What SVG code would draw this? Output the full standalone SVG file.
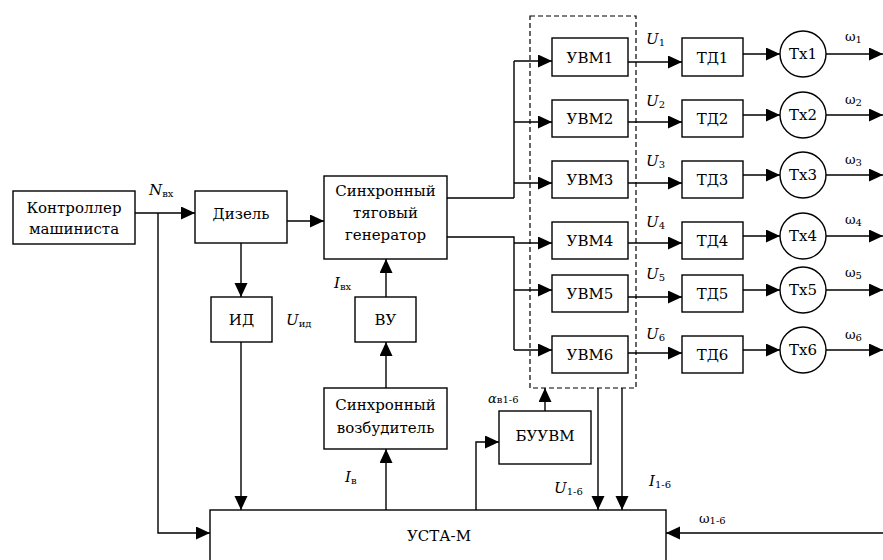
<svg xmlns="http://www.w3.org/2000/svg" width="883" height="560" viewBox="0 0 883 560">
<style>
.b{fill:#fff;stroke:#000;stroke-width:1.4}
.t{font-size:15px;fill:#000;text-anchor:middle}
.l{font-size:15px;fill:#000}
.i{font-style:italic}
.s{font-size:10px}
.w{font-size:13px}
.c{fill:none;stroke:#000;stroke-width:1.4}
.a{marker-end:url(#ah)}
</style>
<defs>
<marker id="ah" markerUnits="userSpaceOnUse" markerWidth="15" markerHeight="14" refX="14" refY="6.5" orient="auto">
<path d="M0,0 L14,6.5 L0,13 z" fill="#000"/>
</marker>
</defs>
<rect width="883" height="560" fill="#fff"/>
<g font-family="'DejaVu Serif', serif">
<g id="connectors">
<path class="c a" d="M135,213 H195"/>
<path class="c a" d="M158,213 V533 H210"/>
<path class="c a" d="M287,221 H324"/>
<path class="c a" d="M241,243 V297"/>
<path class="c a" d="M241,342 V510"/>
<path class="c a" d="M386,297 V259"/>
<path class="c a" d="M386,388 V342"/>
<path class="c a" d="M386,510 V449"/>
<path class="c" d="M447,198 H514 M514,61 V198 M447,237 H514 V350"/>
<path class="c a" d="M514,61 H552"/>
<path class="c a" d="M514,122 H552"/>
<path class="c a" d="M514,183 H552"/>
<path class="c a" d="M514,243 H552"/>
<path class="c a" d="M514,290 H552"/>
<path class="c a" d="M514,350 H552"/>
<path class="c a" d="M628,62 H682"/>
<path class="c a" d="M628,122 H682"/>
<path class="c a" d="M628,183 H682"/>
<path class="c a" d="M628,243 H682"/>
<path class="c a" d="M628,297 H682"/>
<path class="c a" d="M628,353 H682"/>
<path class="c a" d="M743,54 H780"/>
<path class="c a" d="M743,115 H780"/>
<path class="c a" d="M743,175 H780"/>
<path class="c a" d="M743,236 H780"/>
<path class="c a" d="M743,290 H780"/>
<path class="c a" d="M743,350 H780"/>
<path class="c a" d="M826,54 H883"/>
<path class="c a" d="M826,115 H883"/>
<path class="c a" d="M826,175 H883"/>
<path class="c a" d="M826,236 H883"/>
<path class="c a" d="M826,290 H883"/>
<path class="c a" d="M826,350 H883"/>
<path class="c a" d="M476,510 V442 H499"/>
<path class="c a" d="M545,411 V388"/>
<path class="c a" d="M598,388 V510"/>
<path class="c a" d="M622,388 V510"/>
<path class="c a" d="M883,533 H666"/>
</g>
<g id="uvm-group"><rect x="530" y="16" width="106" height="372" fill="none" stroke="#000" stroke-width="1.2" stroke-dasharray="5,3"/></g>
<g id="controller"><rect class="b" x="13" y="191" width="122" height="53"/><text class="t" x="74" y="213">Контроллер</text><text class="t" x="74" y="234">машиниста</text></g>
<g id="diesel"><rect class="b" x="195" y="191" width="92" height="52"/><text class="t" x="241" y="219">Дизель</text></g>
<g id="generator"><rect class="b" x="324" y="176" width="123" height="83"/><text class="t" x="385.5" y="196">Синхронный</text><text class="t" x="385.5" y="218">тяговый</text><text class="t" x="385.5" y="240">генератор</text></g>
<g id="id"><rect class="b" x="211" y="297" width="61" height="45"/><text class="t" x="241.5" y="325">ИД</text></g>
<g id="vu"><rect class="b" x="355" y="297" width="61" height="45"/><text class="t" x="385.5" y="325">ВУ</text></g>
<g id="exciter"><rect class="b" x="324" y="388" width="123" height="61"/><text class="t" x="385.5" y="410">Синхронный</text><text class="t" x="385.5" y="433">возбудитель</text></g>
<g id="buuvm"><rect class="b" x="499" y="411" width="92" height="53"/><text class="t" x="545" y="441">БУУВМ</text></g>
<g id="usta"><rect class="b" x="210" y="510" width="456" height="60"/><text class="t" x="439" y="541">УСТА-М</text></g>
<g id="uvm1"><rect class="b" x="552" y="38" width="76" height="38"/><text class="t" x="590" y="63">УВМ1</text></g>
<g id="uvm2"><rect class="b" x="552" y="100" width="76" height="37"/><text class="t" x="590" y="124">УВМ2</text></g>
<g id="uvm3"><rect class="b" x="552" y="161" width="76" height="37"/><text class="t" x="590" y="185">УВМ3</text></g>
<g id="uvm4"><rect class="b" x="552" y="222" width="76" height="37"/><text class="t" x="590" y="246">УВМ4</text></g>
<g id="uvm5"><rect class="b" x="552" y="275" width="76" height="37"/><text class="t" x="590" y="299">УВМ5</text></g>
<g id="uvm6"><rect class="b" x="552" y="336" width="76" height="37"/><text class="t" x="590" y="360">УВМ6</text></g>
<g id="td1"><rect class="b" x="682" y="38" width="61" height="38"/><text class="t" x="712.5" y="63">ТД1</text></g>
<g id="td2"><rect class="b" x="682" y="100" width="61" height="37"/><text class="t" x="712.5" y="124">ТД2</text></g>
<g id="td3"><rect class="b" x="682" y="161" width="61" height="37"/><text class="t" x="712.5" y="185">ТД3</text></g>
<g id="td4"><rect class="b" x="682" y="222" width="61" height="37"/><text class="t" x="712.5" y="246">ТД4</text></g>
<g id="td5"><rect class="b" x="682" y="275" width="61" height="37"/><text class="t" x="712.5" y="299">ТД5</text></g>
<g id="td6"><rect class="b" x="682" y="336" width="61" height="37"/><text class="t" x="712.5" y="360">ТД6</text></g>
<g id="tx1"><circle class="b" cx="803" cy="54" r="23"/><text class="t" x="803" y="59">Тх1</text></g>
<g id="tx2"><circle class="b" cx="803" cy="115" r="23"/><text class="t" x="803" y="120">Тх2</text></g>
<g id="tx3"><circle class="b" cx="803" cy="175" r="23"/><text class="t" x="803" y="180">Тх3</text></g>
<g id="tx4"><circle class="b" cx="803" cy="236" r="23"/><text class="t" x="803" y="241">Тх4</text></g>
<g id="tx5"><circle class="b" cx="803" cy="290" r="23"/><text class="t" x="803" y="295">Тх5</text></g>
<g id="tx6"><circle class="b" cx="803" cy="350" r="23"/><text class="t" x="803" y="355">Тх6</text></g>
<g id="labels">
<text class="l" x="149" y="195"><tspan class="i">N</tspan><tspan class="s" dy="2">вх</tspan></text>
<text class="l" x="286" y="325"><tspan class="i">U</tspan><tspan class="s" dy="2">ид</tspan></text>
<text class="l" x="334" y="288"><tspan class="i">I</tspan><tspan class="s" dy="2">вх</tspan></text>
<text class="l" x="345" y="482"><tspan class="i">I</tspan><tspan class="s" dy="2">в</tspan></text>
<text class="l" x="554" y="493"><tspan class="i">U</tspan><tspan class="s" dy="2">1-6</tspan></text>
<text class="l" x="649" y="486"><tspan class="i">I</tspan><tspan class="s" dy="2">1-6</tspan></text>
<text class="l" x="488" y="403"><tspan class="i w">α</tspan><tspan class="s">в1-6</tspan></text>
<text class="l" x="699" y="523"><tspan class="w">ω</tspan><tspan class="s" dy="1">1-6</tspan></text>
<text class="l" x="646" y="44"><tspan class="i">U</tspan><tspan class="s" dy="2">1</tspan></text>
<text class="l" x="646" y="106"><tspan class="i">U</tspan><tspan class="s" dy="2">2</tspan></text>
<text class="l" x="646" y="166"><tspan class="i">U</tspan><tspan class="s" dy="2">3</tspan></text>
<text class="l" x="646" y="227"><tspan class="i">U</tspan><tspan class="s" dy="2">4</tspan></text>
<text class="l" x="646" y="279"><tspan class="i">U</tspan><tspan class="s" dy="2">5</tspan></text>
<text class="l" x="646" y="339"><tspan class="i">U</tspan><tspan class="s" dy="2">6</tspan></text>
<text class="l" x="845" y="41"><tspan class="w">ω</tspan><tspan class="s" dy="2">1</tspan></text>
<text class="l" x="845" y="104"><tspan class="w">ω</tspan><tspan class="s" dy="2">2</tspan></text>
<text class="l" x="845" y="164"><tspan class="w">ω</tspan><tspan class="s" dy="2">3</tspan></text>
<text class="l" x="845" y="224"><tspan class="w">ω</tspan><tspan class="s" dy="2">4</tspan></text>
<text class="l" x="845" y="277"><tspan class="w">ω</tspan><tspan class="s" dy="2">5</tspan></text>
<text class="l" x="845" y="339"><tspan class="w">ω</tspan><tspan class="s" dy="2">6</tspan></text>
</g>
</g>
</svg>
